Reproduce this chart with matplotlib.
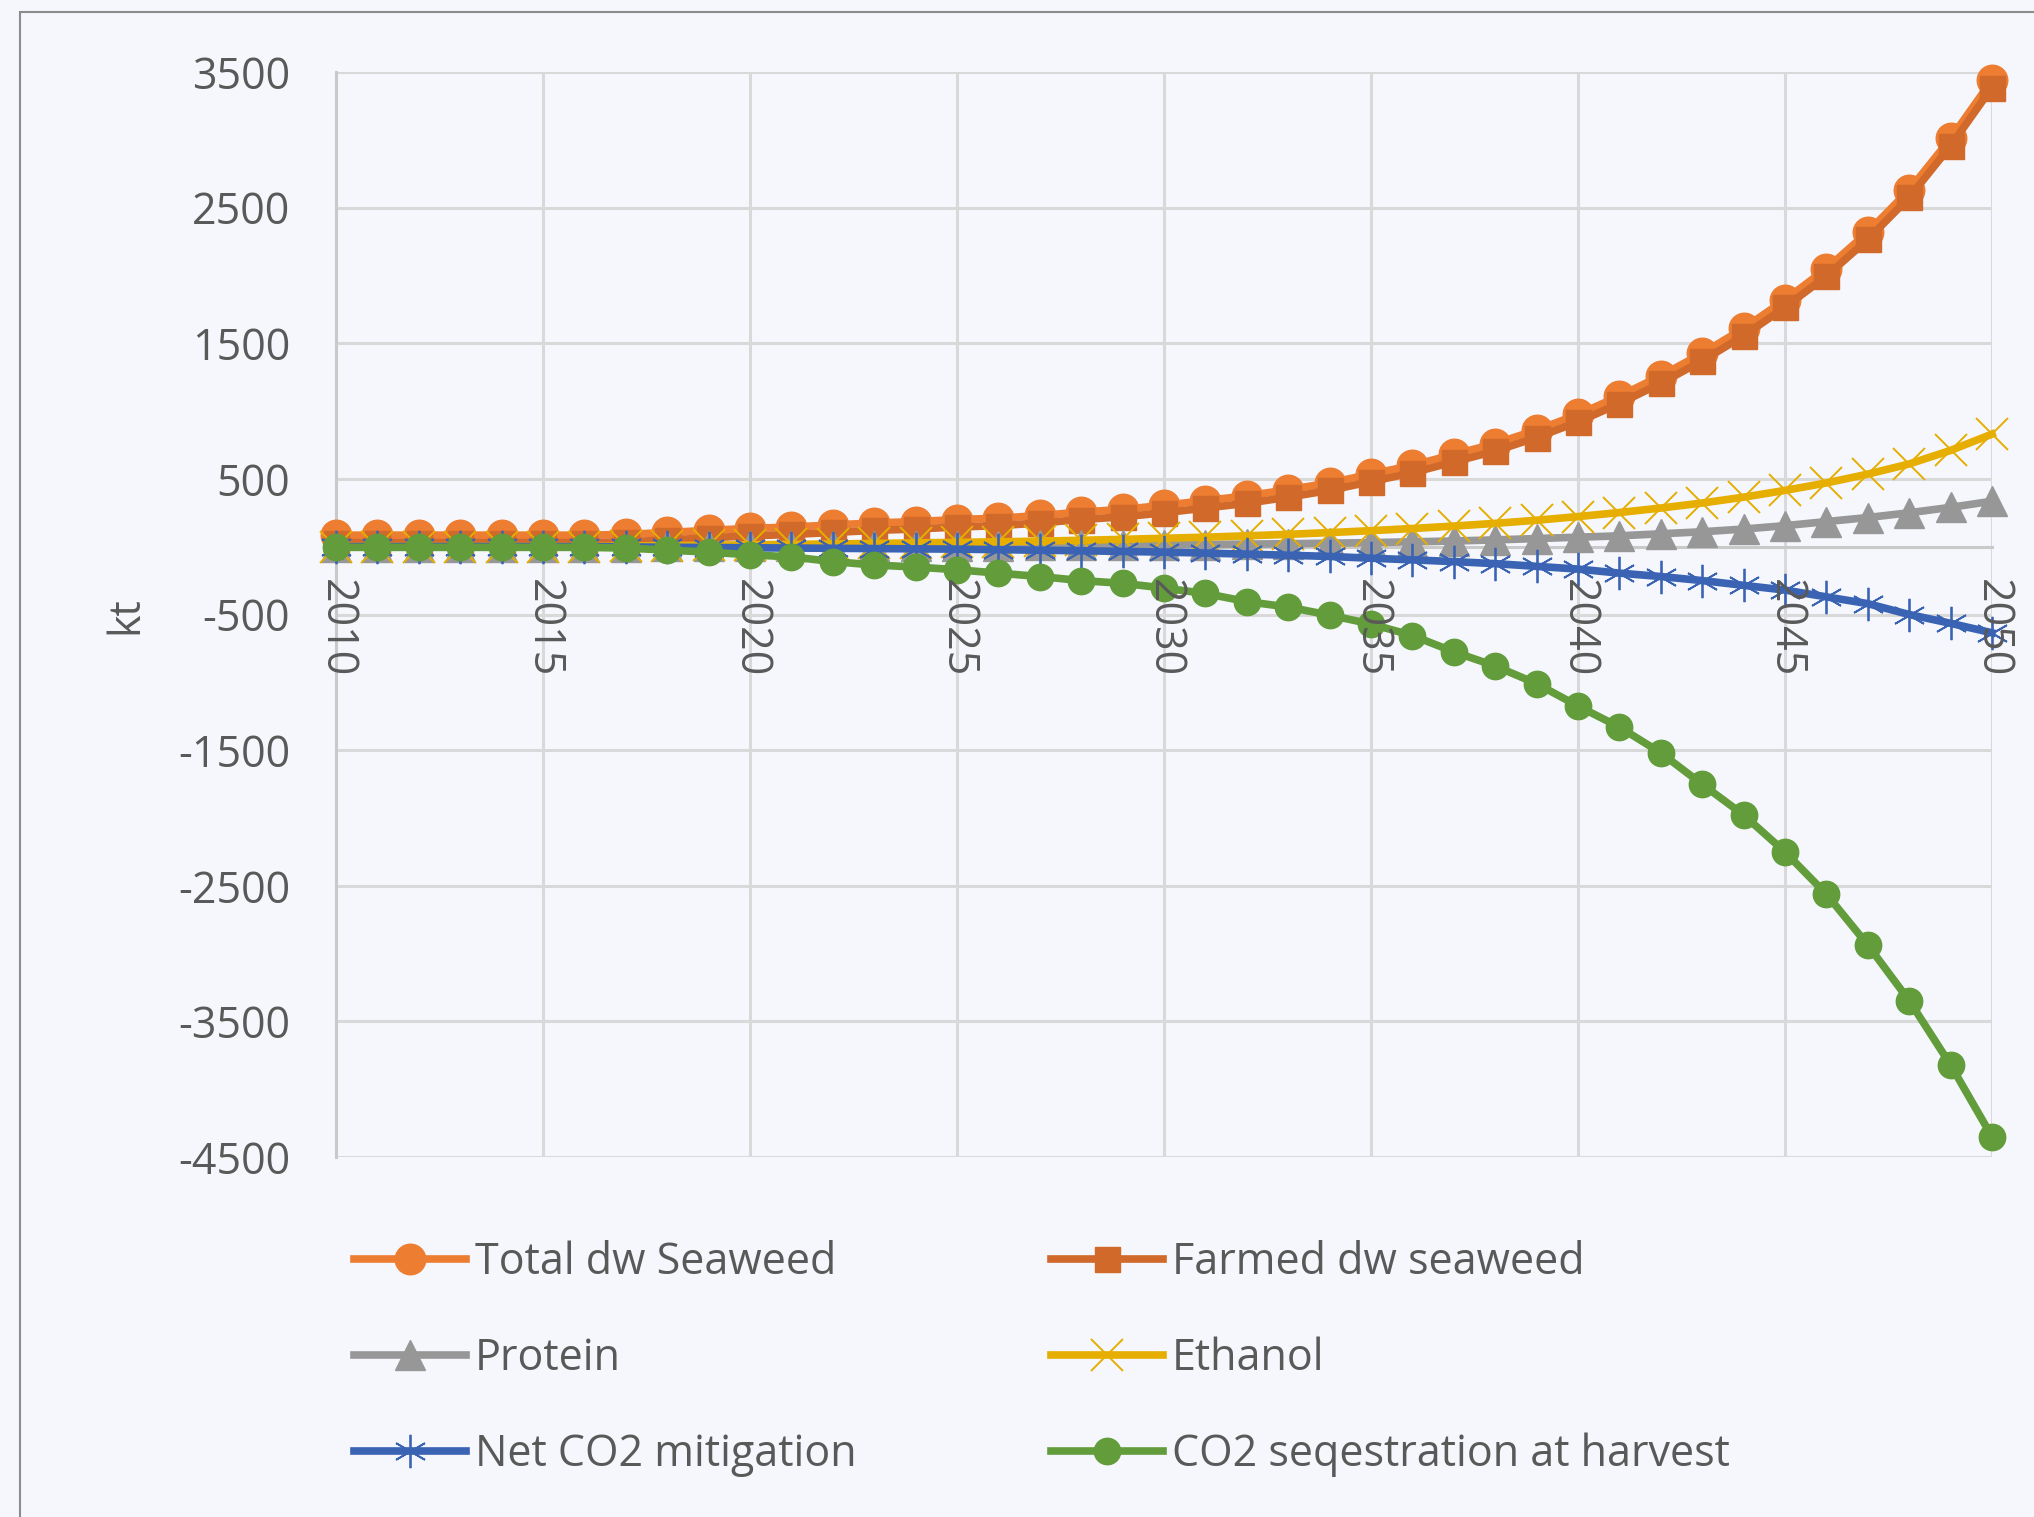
import numpy as np
import matplotlib.pyplot as plt
from matplotlib.patches import Rectangle

plt.rcParams['font.family'] = ['Open Sans', 'DejaVu Sans']
plt.rcParams['axes.unicode_minus'] = False

# yearly values, kt
years = np.arange(2010, 2051)

total_dw = [85, 85, 85, 85, 85, 85, 85, 90, 105, 120,
            135, 145, 160, 175, 185, 200, 210, 230, 255, 275,
            305, 340, 375, 420, 470, 535, 600, 680, 760, 860,
            975, 1110, 1260, 1425, 1610, 1820, 2050, 2320, 2630, 3010,
            3440]
farmed_dw = [30, 30, 30, 30, 30, 30, 30, 35, 50, 65,
             80, 90, 105, 120, 130, 145, 155, 175, 200, 220,
             250, 285, 320, 365, 415, 480, 545, 625, 705, 805,
             920, 1055, 1205, 1370, 1555, 1765, 1995, 2265, 2575, 2955,
             3385]
protein = [0, 0, 0, 0, 0, 0, 0, 1, 2, 2,
           3, 3, 4, 5, 6, 7, 8, 9, 10, 12,
           14, 16, 19, 22, 26, 30, 36, 42, 50, 60,
           70, 80, 95, 110, 130, 155, 185, 215, 250, 290,
           335]
ethanol = [0, 0, 0, 0, 0, 0, 0, 5, 8, 11,
           14, 17, 20, 24, 28, 32, 36, 41, 47, 54,
           62, 70, 80, 91, 104, 118, 134, 152, 172, 195,
           222, 252, 285, 322, 365, 415, 470, 535, 610, 710,
           830]
net_co2 = [0, 0, 0, 0, 0, 0, 0, -2, -4, -6,
           -8, -10, -12, -14, -16, -18, -22, -26, -30, -35,
           -40, -47, -55, -63, -72, -85, -97, -110, -125, -145,
           -165, -195, -220, -250, -285, -320, -370, -420, -500, -565,
           -635]
co2_harvest = [-5, -5, -5, -5, -5, -5, -5, -10, -25, -40,
               -60, -75, -110, -135, -150, -170, -195, -220, -250, -270,
               -305, -345, -405, -445, -505, -570, -655, -775, -880, -1010,
               -1175, -1330, -1520, -1752, -1978, -2251, -2562, -2937, -3347, -3821,
               -4350]

ytick_vals = [-4500, -3500, -2500, -1500, -500, 500, 1500, 2500, 3500]
ytick_text = ['-4500', '-3500', '-2500', '-1500', '-500', '500', '1500', '2500', '3500']
xtick_vals = [2010, 2015, 2020, 2025, 2030, 2035, 2040, 2045, 2050]

bg = '#F5F7FC'
txt = '#595959'
grid_c = '#D9D9D9'
W, H = 2034, 1517
fs = 31

fig = plt.figure(figsize=(W / 100, H / 100), dpi=100, facecolor=bg)
ax = fig.add_axes([336 / W, 1 - 1157 / H, 1656 / W, 1085 / H])
ax.set_facecolor(bg)

# gridlines under everything
for v in ytick_vals:
    ax.axhline(v, color=grid_c, lw=2.2, zorder=0.5)
for yr in xtick_vals[1:]:
    ax.axvline(yr, color=grid_c, lw=2.2, zorder=0.5)

lw = 5.5
h_total, = ax.plot(years, total_dw, color='#ED7D31', lw=lw, marker='o', ms=22,
                   label='Total dw Seaweed', zorder=3, clip_on=False)
h_farmed, = ax.plot(years, farmed_dw, color='#D0692A', lw=lw, marker='s', ms=18,
                    label='Farmed dw seaweed', zorder=3.1, clip_on=False)
h_protein, = ax.plot(years, protein, color='#979797', lw=lw, marker='^', ms=21,
                     label='Protein', zorder=3.2, clip_on=False)
h_ethanol, = ax.plot(years, ethanol, color='#E5AE00', lw=lw, marker='x', ms=23, mew=1.4,
                     label='Ethanol', zorder=3.3, clip_on=False)
h_net, = ax.plot(years, net_co2, color='#3A63B4', lw=lw, marker=(6, 2, 0), ms=24, mew=1.3,
                 label='Net CO2 mitigation', zorder=3.4, clip_on=False)
h_co2, = ax.plot(years, co2_harvest, color='#629C3B', lw=lw, marker='o', ms=19,
                 label='CO2 seqestration at harvest', zorder=3.5, clip_on=False)

ax.set_xlim(2010, 2050)
ax.set_ylim(-4500, 3500)
ax.set_yticks(ytick_vals)
ax.set_yticklabels(ytick_text)
ax.set_xticks(xtick_vals)
ax.set_xticklabels([str(y) for y in xtick_vals])
ax.tick_params(axis='x', length=0, pad=23, labelsize=fs, colors=txt, labelrotation=270)
ax.tick_params(axis='y', length=0, pad=33, labelsize=fs, colors=txt)
ax.xaxis.set_zorder(10)

for s in ['top', 'right']:
    ax.spines[s].set_visible(False)
ax.spines['bottom'].set_position(('data', 0))
ax.spines['bottom'].set_color('#C9C9C9')
ax.spines['bottom'].set_linewidth(2.2)
ax.spines['left'].set_color('#C9C9C9')
ax.spines['left'].set_linewidth(2.2)

fig.text(126 / W, 1 - 615 / H, 'kt', rotation=90, ha='center', va='center',
         fontsize=fs, color=txt)

# chart border
fig.patches.append(Rectangle((20 / W, -0.05), 1.1, 1.05 - 12 / H, transform=fig.transFigure,
                             fill=False, ec='#8C8C8C', lw=1.5))

leg_kw = dict(loc='center left', frameon=False, fontsize=fs, handlelength=2.6,
              handletextpad=0.2, labelspacing=1.2, borderpad=0, borderaxespad=0,
              labelcolor=txt)
fig.legend(handles=[h_total, h_protein, h_net], bbox_to_anchor=(354 / W, 1 - 1359 / H), **leg_kw)
fig.legend(handles=[h_farmed, h_ethanol, h_co2], bbox_to_anchor=(1051 / W, 1 - 1359 / H), **leg_kw)

fig.savefig('out.png', dpi=100, facecolor=bg)
